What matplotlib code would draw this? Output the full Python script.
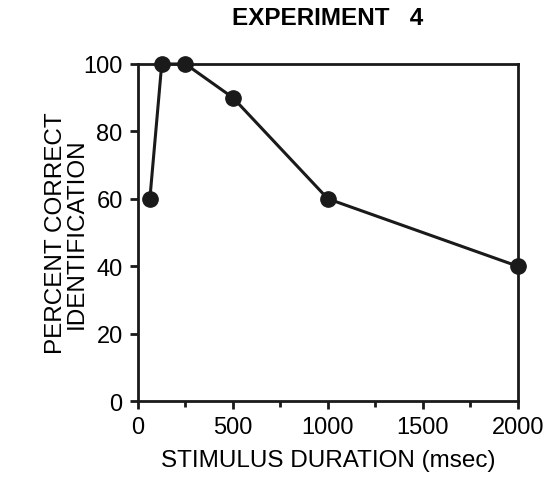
import matplotlib
matplotlib.use("Agg")
import matplotlib.pyplot as plt
from matplotlib.ticker import MultipleLocator

plt.rcParams['font.family'] = ['Liberation Sans', 'DejaVu Sans']

# stimulus duration (msec) vs percent correct
duration = [62.5, 125, 250, 500, 1000, 2000]
pct_correct = [60, 100, 100, 90, 60, 40]
x_ticks = [0, 500, 1000, 1500, 2000]
y_ticks = [0, 20, 40, 60, 80, 100]

fig = plt.figure(figsize=(5.52, 4.85), dpi=100)
ax = fig.add_axes([0.25, 0.171, 0.688, 0.695])

ax.plot(duration, pct_correct, color='#1a1a1a', lw=2.2,
        marker='o', ms=11, clip_on=False, zorder=3)

ax.set_xlim(0, 2000)
ax.set_ylim(0, 100)
ax.set_xticks(x_ticks)
ax.set_yticks(y_ticks)
ax.xaxis.set_minor_locator(MultipleLocator(250))
ax.tick_params(axis='both', which='major', labelsize=17, width=2,
               length=6, direction='out', color='#1a1a1a', pad=5)
ax.tick_params(axis='x', which='minor', width=2, length=4,
               direction='out', color='#1a1a1a')
for s in ax.spines.values():
    s.set_linewidth(2)
    s.set_color('#1a1a1a')

ax.set_xlabel('STIMULUS DURATION (msec)', fontsize=17.5, labelpad=8)
ax.set_ylabel('PERCENT CORRECT\nIDENTIFICATION', fontsize=17.5, labelpad=-3,
              linespacing=0.9)
ax.set_title('EXPERIMENT   4', fontsize=17.5, fontweight='bold', pad=29)

fig.savefig('out.png', dpi=100)
